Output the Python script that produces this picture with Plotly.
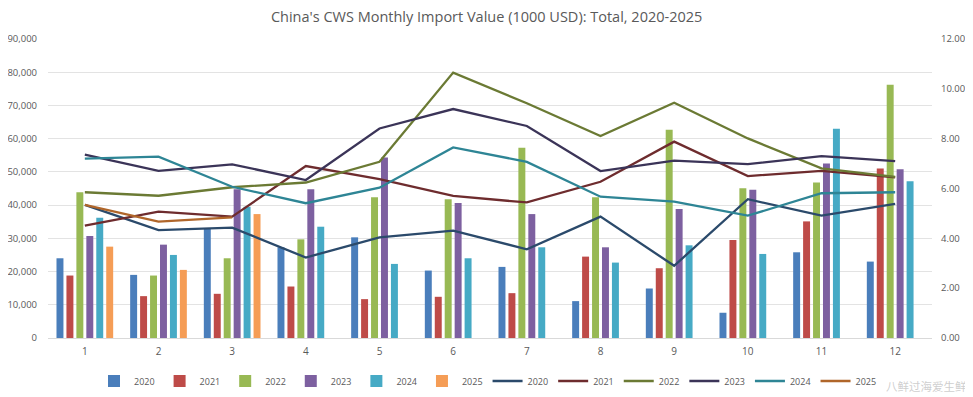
import plotly.graph_objects as go

months = [str(m) for m in range(1, 13)]
years = ["2020", "2021", "2022", "2023", "2024", "2025"]

# Import value (1000 USD) - bars, left axis
val_2020 = [24000, 19000, 33000, 27300, 30300, 20300, 21400, 11100, 14900, 7600, 25800, 23000]
val_2021 = [18800, 12600, 13300, 15500, 11700, 12400, 13500, 24500, 21000, 29500, 35100, 51000]
val_2022 = [43900, 18800, 24000, 29700, 42400, 41800, 57300, 42400, 62700, 45100, 46800, 76200]
val_2023 = [30700, 28100, 44800, 44800, 54300, 40600, 37300, 27300, 38800, 44600, 52500, 50800]
val_2024 = [36200, 25000, 39500, 33500, 22300, 24000, 27300, 22700, 27900, 25300, 63000, 47200]
val_2025 = [27500, 20500, 37300]

# Unit value - lines, right axis
line_2020 = [5.34, 4.33, 4.43, 3.23, 4.04, 4.31, 3.56, 4.87, 2.90, 5.57, 4.91, 5.38]
line_2021 = [4.51, 5.07, 4.87, 6.90, 6.38, 5.70, 5.44, 6.27, 7.88, 6.50, 6.71, 6.45]
line_2022 = [5.85, 5.71, 6.05, 6.24, 7.07, 10.65, 9.42, 8.11, 9.44, 8.01, 6.81, 6.47]
line_2023 = [7.36, 6.71, 6.97, 6.34, 8.41, 9.19, 8.51, 6.70, 7.12, 6.98, 7.30, 7.10]
line_2024 = [7.20, 7.28, 6.07, 5.41, 6.03, 7.65, 7.07, 5.67, 5.47, 4.91, 5.81, 5.85]
line_2025 = [5.34, 4.67, 4.84]

bar_vals = [val_2020, val_2021, val_2022, val_2023, val_2024, val_2025]
line_vals = [line_2020, line_2021, line_2022, line_2023, line_2024, line_2025]

bar_colors = ["#4a7ebb", "#be4b48", "#98b954", "#7d60a0", "#46aac5", "#f59d56"]
line_colors = ["#2b4a6b", "#6e2c2e", "#6b7a34", "#3b3458", "#2e8595", "#b0662a"]

fig = go.Figure()
for y, v, c in zip(years, bar_vals, bar_colors):
    fig.add_trace(go.Bar(x=months[:len(v)], y=v, name=y, marker_color=c,
                         marker_line_width=0, yaxis="y"))
for y, v, c in zip(years, line_vals, line_colors):
    fig.add_trace(go.Scatter(x=months[:len(v)], y=v, name=y, mode="lines",
                             line=dict(color=c, width=2.3), yaxis="y2"))

# page has an 8px body margin, so the figure is sized 965x389
W, H = 965, 389
L, R, T, B = 40, 41, 31, 59
PW, PH = W - L - R, H - T - B


def px_x(x):  # figure px -> paper x
    return (x - L) / PW


def px_y(y):  # figure px -> paper y
    return (H - B - y) / PH


fig.update_layout(
    width=W, height=H,
    margin=dict(l=L, r=R, t=T, b=B, autoexpand=False),
    paper_bgcolor="white", plot_bgcolor="white",
    title=dict(text="China's CWS Monthly Import Value (1000 USD): Total, 2020-2025",
               x=0.496, xanchor="center", y=1 - 9 / H, yanchor="middle",
               font=dict(family="Open Sans", size=14.5, color="#595959")),
    font=dict(family="Open Sans", size=10, color="#595959"),
    barmode="group", bargap=0.19, bargroupgap=0.3,
    xaxis=dict(type="category", showgrid=False, showline=True, linecolor="#d9d9d9",
               ticks="", ticklabelstandoff=4, tickfont=dict(size=10, color="#595959")),
    yaxis=dict(range=[0, 90000], dtick=10000, tickformat=",", showgrid=True,
               gridcolor="#e3e3e3", zeroline=False, ticks="", ticklabelstandoff=10,
               tickfont=dict(size=9.5, color="#595959")),
    yaxis2=dict(range=[0, 12], dtick=2, tickformat=".2f", overlaying="y", side="right",
                showgrid=False, zeroline=False, ticks="", ticklabelstandoff=8,
                tickfont=dict(size=9.5, color="#595959")),
    legend=dict(orientation="h", x=px_x(86), xanchor="left", y=px_y(373), yanchor="middle",
                font=dict(size=9, color="#595959"), traceorder="normal",
                itemwidth=30, tracegroupgap=0),
    showlegend=True,
)

fig.add_annotation(text="八鲜过海爱生鲜", xref="paper", yref="paper", x=px_x(961), y=px_y(378),
                   xanchor="right", yanchor="middle", showarrow=False,
                   font=dict(family="Noto Sans CJK SC", size=11.5, color="rgba(190,190,190,0.75)"))

fig.write_html("out.html")
